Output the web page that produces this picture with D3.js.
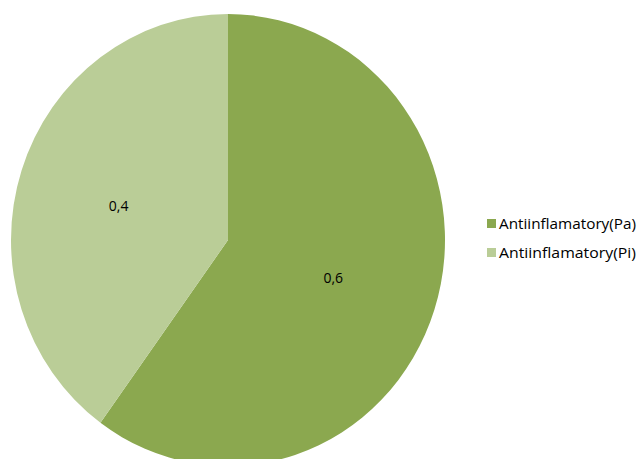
<!DOCTYPE html>
<html>
<head>
<meta charset="utf-8">
<script src="https://cdn.jsdelivr.net/npm/d3@7"></script>
<style>
  body { margin: 0; background: #fff; }
  svg text { font-family: "Open Sans", "Liberation Sans", sans-serif; fill: #000; }
</style>
</head>
<body>
<div class="chart"></div>
<script>
'use strict'

let width = 638;
let height = 459;

const categories = ['Antiinflamatory(Pa)', 'Antiinflamatory(Pi)'];
const values = [0.6, 0.4];
const valueLabels = ['0,6', '0,4'];
const colors = ['#8BA84F', '#BACD97'];

/* the pie in the picture is a little taller than wide */
const cx = 228, cy = 240, radius = 217, yStretch = 226 / 217;

const svg = d3.select('.chart')
              .append('svg')
              .attr('width', width)
              .attr('height', height);

const pie = d3.pie().sort(null).value(d => d);
const arcs = pie(values);
const arc = d3.arc().innerRadius(0).outerRadius(radius);

const g = svg.append('g')
             .attr('transform', 'translate(' + cx + ',' + cy + ') scale(1,' + yStretch + ')');

g.selectAll('path')
  .data(arcs)
  .enter()
  .append('path')
  .attr('d', arc)
  .style('fill', (d, i) => colors[i]);

/* labels sit at about half radius */
const labelArc = d3.arc().innerRadius(radius * 0.52).outerRadius(radius * 0.52);
svg.selectAll('.lbl')
  .data(arcs)
  .enter()
  .append('text')
  .attr('class', 'lbl')
  .attr('x', d => cx + labelArc.centroid(d)[0] - 2)
  .attr('y', d => cy + labelArc.centroid(d)[1] * yStretch + 2)
  .attr('text-anchor', 'middle')
  .attr('dy', '0.35em')
  .style('font-size', '14px')
  .text((d, i) => valueLabels[i]);

/* legend */
const legend = svg.append('g').attr('transform', 'translate(487, 219)');
const item = legend.selectAll('g')
  .data(categories)
  .enter()
  .append('g')
  .attr('transform', (d, i) => 'translate(0,' + (i * 29) + ')');

item.append('rect')
  .attr('width', 9)
  .attr('height', 9)
  .style('fill', (d, i) => colors[i]);

item.append('text')
  .attr('x', 12)
  .attr('y', 5)
  .attr('dy', '0.35em')
  .attr('textLength', 137)
  .attr('lengthAdjust', 'spacingAndGlyphs')
  .style('font-size', '15px')
  .text(d => d);
</script>
</body>
</html>
